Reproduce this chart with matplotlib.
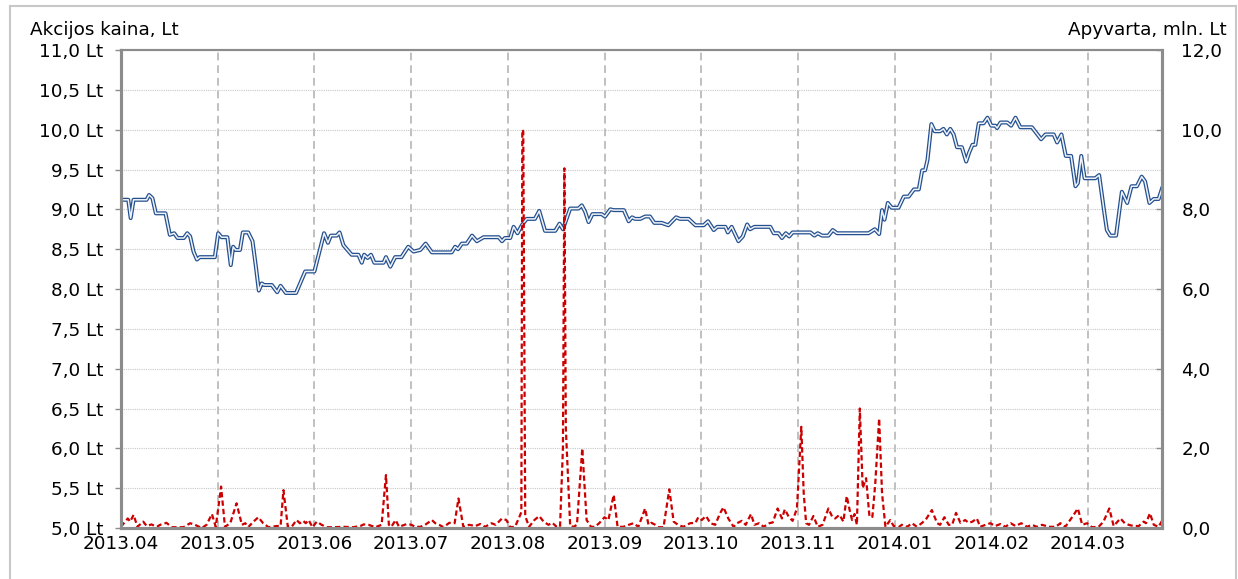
import matplotlib
matplotlib.use('Agg')
import matplotlib.pyplot as plt
from matplotlib.lines import Line2D

# trading-day index -> share price, Lt (breakpoints of the line)
price_days = [0, 1.5, 2, 2.6, 5.3, 5.8, 6.5, 7.2, 9.2, 10.1, 11, 11.7, 13, 13.7, 14.3, 15, 15.7,
              16.3, 19.4, 20.1, 20.8, 22, 22.7, 23.2, 23.7, 24.6, 25.2, 26.3, 27.2, 27.9, 28.5,
              29.1, 29.6, 31.2, 32.3, 33, 34.1, 36.2, 38.1, 40, 42, 42.8, 43.4, 44.6, 45.2, 46,
              47.7, 49.1, 49.8, 50.3, 51, 51.7, 52.4, 54.3,
              54.8, 55.7, 56.7, 58, 59.4, 60.5, 61.9, 63, 64.3, 68.4, 69.1, 69.7, 70.5, 71.5,
              72.6, 73.6, 75, 78.1, 78.8, 79.4, 80.5, 81.2, 82, 82.9, 83.9, 85.6, 86.5, 87.7,
              89.8, 90.7, 91.4, 92.9, 94.6, 95.3, 96, 96.7, 97.5, 99.4, 100.1, 101.2, 101.9,
              104, 105, 105.7, 106.3, 107.4,
              108.4, 109.4, 110.3, 111.8, 113.2, 114.8, 115.6, 117.4, 118.8, 120.5, 121.4,
              122.6, 123.3, 125, 125.5, 126.3, 127.7, 128.6, 129.5, 130.1, 131, 134.3, 135, 136,
              136.7, 137.5, 138.2, 138.9, 142.6, 143.4, 144.1, 145, 146.3, 147.2, 148.1, 154.6,
              155.9, 156.8, 157.4, 157.9, 158.6, 159.4, 160.8,
              161.9, 162.9, 164, 165, 165.7, 166.3, 166.8, 167.6, 168.3, 169.4, 170.1, 170.8,
              171.5, 172.2, 172.9, 173.9, 174.8, 175.4, 176.1, 176.7, 177.4, 178.4, 179.2, 180,
              180.8, 181.2, 181.9, 183.3, 184.1, 185, 186, 188.4, 190.3, 191.2, 192.9, 193.6,
              194.5, 195.4, 196.5, 197.4, 197.9, 198.6, 199.3, 201.5, 202.3, 203.3, 203.9,
              204.6, 205.8, 207, 208.1, 209, 210.1, 211.1, 211.8, 212.7, 213.6, 214.6, 215.3]
price_values = [9.12, 9.12, 8.89, 9.12, 9.12, 9.18, 9.14, 8.95, 8.95, 8.68, 8.70, 8.64, 8.64, 8.70,
                8.66, 8.47, 8.37, 8.40, 8.40, 8.70, 8.65, 8.65, 8.30, 8.53, 8.49, 8.49, 8.71,
                8.71, 8.60, 8.28, 7.98, 8.07, 8.05, 8.05, 7.96, 8.04, 7.95, 7.95, 8.22, 8.22,
                8.70, 8.58, 8.67, 8.67, 8.71, 8.55, 8.43, 8.43, 8.33, 8.43, 8.39, 8.43, 8.33, 8.33,
                8.40, 8.28, 8.40, 8.40, 8.53, 8.47, 8.49, 8.57, 8.46, 8.46, 8.53, 8.50, 8.57,
                8.57, 8.67, 8.60, 8.65, 8.65, 8.60, 8.64, 8.64, 8.78, 8.70, 8.80, 8.88, 8.88,
                8.98, 8.73, 8.73, 8.82, 8.75, 9.01, 9.01, 9.05, 8.97, 8.84, 8.94, 8.94, 8.91,
                9.00, 8.99, 8.99, 8.85, 8.90, 8.88, 8.88,
                8.91, 8.91, 8.83, 8.83, 8.80, 8.90, 8.88, 8.88, 8.80, 8.80, 8.85, 8.74, 8.78,
                8.78, 8.71, 8.78, 8.60, 8.66, 8.81, 8.75, 8.78, 8.78, 8.70, 8.70, 8.64, 8.70,
                8.66, 8.71, 8.71, 8.67, 8.70, 8.67, 8.67, 8.74, 8.70, 8.70, 8.75, 8.69, 8.99,
                8.87, 9.08, 9.02, 9.02,
                9.16, 9.16, 9.25, 9.25, 9.49, 9.49, 9.62, 10.07, 9.98, 9.98, 10.01, 9.94, 10.01,
                9.94, 9.78, 9.78, 9.60, 9.71, 9.81, 9.81, 10.08, 10.08, 10.15, 10.05, 10.05,
                10.02, 10.09, 10.09, 10.05, 10.15, 10.03, 10.03, 9.88, 9.94, 9.94, 9.84, 9.94,
                9.67, 9.67, 9.29, 9.33, 9.67, 9.39, 9.39, 9.43, 8.99, 8.74, 8.67, 8.67, 9.22,
                9.08, 9.29, 9.29, 9.41, 9.35, 9.08, 9.13, 9.13, 9.26]

# trading-day index -> turnover, mln. Lt
turnover_days = [0, 1.4, 1.9, 2.6, 3.4, 4.6, 5.3, 6.3, 7.4, 8.1, 9.4, 10.5, 12.9, 14.3, 15.3, 16.7,
                 17.7, 18.8, 19.6, 20.7, 21.5, 22.6, 23.9, 25, 25.7, 26.3, 27.4, 28.4, 29.4,
                 30.5, 32.2, 33, 33.6, 34.5, 35.3, 36.3, 37, 37.7, 38.2, 38.8, 39.6, 40.5, 41.5,
                 42.6, 44, 46, 48, 49.5, 50.2, 51.2, 52.6,
                 53.9, 54.8, 55.4, 55.9, 56.8, 57.5, 59.1, 60.1, 60.8, 61.9, 62.9, 64.3, 65,
                 65.8, 66.7, 67.9, 69, 69.8, 70.8, 72, 73.3, 74.3, 75.3, 76.6, 77.5, 78.8, 79.7,
                 80.5, 81.5, 82.4, 82.8, 83.0, 83.2, 83.6, 84.4, 85.5, 86.5, 87.4, 88.4, 89.2,
                 90.1, 90.8, 91.4, 91.7, 92.0, 92.9, 93.6, 94.3, 95.4, 96.3, 97.2, 98, 98.9, 100,
                 100.8, 101.9, 102.7, 103.9, 105, 106, 107,
                 108.4, 109.1, 109.7, 110.5, 111.2, 112.2, 113.4, 114.3, 115.2, 116.3, 117.7,
                 118.8, 119.4, 120.1, 121, 121.9, 122.9, 123.9, 124.6, 125.6, 126.7, 127.4,
                 128.4, 129.2, 130.3, 131, 132, 132.9, 134.1, 134.8, 135.8, 136.7, 137.3, 138.1,
                 138.9, 139.8, 140.7, 141.2, 141.7, 142.3, 143.2, 144.1, 145.1, 146.3, 147.1,
                 147.7, 148.6, 149.4, 150.1, 150.7, 151.2, 151.7, 152.2, 152.8, 153.4, 154.1,
                 154.8, 155.4, 156, 156.8, 157.4, 158.1, 159.1, 159.8, 160.8,
                 161.5, 162.6, 163.6, 164.6, 165.7, 166.6, 167.7, 168.8, 169.4, 170.3, 171.2,
                 171.9, 172.7, 173.6, 174.6, 175.3, 176.1, 177, 177.7, 178.8, 179.8, 180.8,
                 181.9, 182.9, 184, 185, 186.2, 187.4, 188.4, 189.4, 190.5, 191.9, 193.3, 194.3,
                 195.3, 196.7, 197.9, 198.8, 199.8, 200.8, 202.2, 203.2, 204.4, 205.3, 206.7,
                 207.6, 208.4, 209.4, 210.5, 211.5, 212, 212.8, 213.6, 214.6, 215.3]
turnover_values = [0.03, 0.24, 0.16, 0.33, 0.03, 0.16, 0.05, 0.09, 0.03, 0.08, 0.13, 0.02, 0.02,
                   0.12, 0.08, 0.0, 0.08, 0.35, 0.03, 1.04, 0.03, 0.12, 0.62, 0.08, 0.12, 0.02,
                   0.16, 0.27, 0.12, 0.02, 0.05, 0.05, 0.95, 0.03, 0.03, 0.20, 0.12, 0.18, 0.12,
                   0.20, 0.02, 0.16, 0.08, 0.02, 0.02, 0.03, 0.02, 0.05, 0.09, 0.08, 0.02,
                   0.08, 1.33, 0.08, 0.03, 0.20, 0.03, 0.10, 0.08, 0.03, 0.03, 0.08, 0.20, 0.12,
                   0.08, 0.02, 0.13, 0.12, 0.74, 0.03, 0.08, 0.05, 0.10, 0.03, 0.12, 0.08, 0.24,
                   0.20, 0.02, 0.03, 0.28, 0.4, 10.0, 9.95, 0.3, 0.03, 0.20, 0.30, 0.16, 0.08, 0.13,
                   0.03, 0.03, 2.0, 9.03, 2.5, 0.05, 0.03, 0.08, 2.0, 0.20, 0.03, 0.03, 0.12, 0.27,
                   0.20, 0.83, 0.03, 0.03, 0.08, 0.12, 0.03,
                   0.49, 0.08, 0.13, 0.08, 0.02, 0.02, 0.97, 0.16, 0.08, 0.03, 0.12, 0.13, 0.27,
                   0.20, 0.30, 0.12, 0.08, 0.37, 0.52, 0.24, 0.03, 0.12, 0.18, 0.08, 0.35, 0.08,
                   0.12, 0.03, 0.12, 0.14, 0.49, 0.24, 0.47, 0.28, 0.18, 0.49, 2.54, 0.87, 0.12,
                   0.08, 0.30, 0.03, 0.08, 0.49, 0.28, 0.24, 0.33, 0.16, 0.80, 0.45, 0.20, 0.35,
                   0.08, 3.0, 1.0, 1.25, 0.28, 0.28, 1.12, 2.75, 0.87, 0.03, 0.20, 0.05, 0.02,
                   0.08, 0.03, 0.12, 0.03, 0.13, 0.24, 0.45, 0.12, 0.08, 0.27, 0.08, 0.08, 0.38,
                   0.13, 0.20, 0.13, 0.16, 0.24, 0.03, 0.08, 0.12, 0.05, 0.10, 0.03, 0.12, 0.05,
                   0.12, 0.03, 0.08, 0.03, 0.08, 0.03, 0.03, 0.12, 0.03, 0.27, 0.49, 0.08, 0.12,
                   0.02, 0.03, 0.16, 0.49, 0.05, 0.24, 0.12, 0.08, 0.05, 0.05, 0.16, 0.12, 0.37,
                   0.08, 0.03, 0.18]

month_days = [0, 20, 40, 60, 80, 100, 120, 140, 160, 180, 200]
month_labels = ['2013.04', '2013.05', '2013.06', '2013.07', '2013.08', '2013.09',
                '2013.10', '2013.11', '2014.01', '2014.02', '2014.03']
price_ticks = [5.0, 5.5, 6.0, 6.5, 7.0, 7.5, 8.0, 8.5, 9.0, 9.5, 10.0, 10.5, 11.0]
turnover_ticks = [0, 2, 4, 6, 8, 10, 12]

FS = 13.2
plt.rcParams['font.family'] = ['DejaVu Sans']
plt.rcParams['font.size'] = FS

W, H = 1238, 579
fig = plt.figure(figsize=(W / 100, H / 100), dpi=100)
ax1 = fig.add_axes([121 / W, 1 - 528 / H, (1162 - 121) / W, (528 - 50) / H])
ax2 = ax1.twinx()

# outer frame
frame = '#c8c8c8'
fig.add_artist(Line2D([10 / W, 10 / W], [0, 1 - 6 / H], color=frame, lw=1.5))
fig.add_artist(Line2D([10 / W, 1236 / W], [1 - 6 / H, 1 - 6 / H], color=frame, lw=1.5))
fig.add_artist(Line2D([1236 / W, 1236 / W], [0, 1 - 6 / H], color=frame, lw=1.5))

ax1.set_xlim(0, 215.3)
ax1.set_ylim(5.0, 11.0)
ax2.set_ylim(0, 12)

ax1.set_xticks(month_days)
ax1.set_xticklabels(month_labels)
ax1.set_yticks(price_ticks)
ax1.set_yticklabels([f'{v:.1f}'.replace('.', ',') + ' Lt' for v in price_ticks])
ax2.set_yticks(turnover_ticks)
ax2.set_yticklabels([f'{v:.1f}'.replace('.', ',') for v in turnover_ticks])

ax1.grid(axis='y', color='#c8c8c8', lw=0.8, linestyle=(0, (1, 1)))
ax1.grid(axis='x', color='#c0c0c0', lw=1.4, linestyle=(0, (4, 2.5)))
ax1.set_axisbelow(True)

spine = '#8c8c8c'
for ax in (ax1, ax2):
    for side, sp in ax.spines.items():
        sp.set_color(spine)
        sp.set_linewidth(1.5 if side == 'top' else 2.2)

ax1.tick_params(axis='x', length=0, pad=5, labelsize=FS, colors='black')
ax1.tick_params(axis='y', direction='out', length=4.5, width=1, color=spine, pad=8,
                labelsize=FS)
ax2.tick_params(axis='y', direction='in', length=4.5, width=1, color=spine, pad=14,
                labelsize=FS)

# price: double line (dark outline with light core)
ax1.plot(price_days, price_values, color='#24508f', lw=2.9, solid_joinstyle='round')
ax1.plot(price_days, price_values, color='#f0f3f8', lw=1.1, solid_joinstyle='round')

# turnover
ax2.plot(turnover_days, turnover_values, color='#cc0000', lw=1.6,
         linestyle=(0, (2.4, 1.4)))

fig.text(30 / W, 1 - 30 / H, 'Akcijos kaina, Lt', ha='left', va='center', fontsize=FS)
fig.text(1227 / W, 1 - 30 / H, 'Apyvarta, mln. Lt', ha='right', va='center', fontsize=FS)

fig.savefig('out.png', dpi=100)
